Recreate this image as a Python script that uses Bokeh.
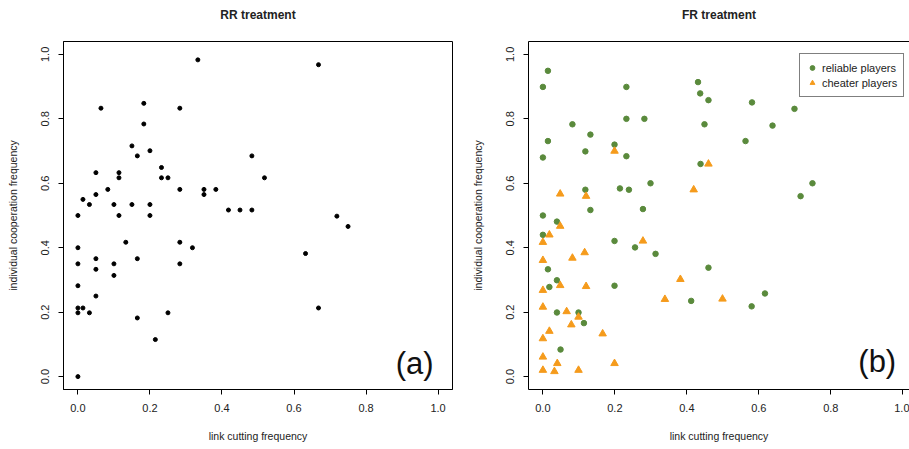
from bokeh.plotting import figure
from bokeh.layouts import row
from bokeh.models import (Range1d, FixedTicker, Label, LinearAxis, Legend,
                          LegendItem, NumeralTickFormatter)
from bokeh.embed import file_html
from bokeh.resources import INLINE

# ---------------- data ----------------
ticks = [0.0, 0.2, 0.4, 0.6, 0.8, 1.0]

rr_x = [0.0, 0.014, 0.032, 0.05, 0.05, 0.064, 0.083, 0.10, 0.114, 0.114, 0.114,
        0.15, 0.15, 0.165, 0.183, 0.183, 0.20, 0.20, 0.20, 0.232, 0.232, 0.25,
        0.283, 0.283, 0.333, 0.35, 0.35, 0.383, 0.418, 0.45, 0.483, 0.483,
        0.668, 0.518, 0.719, 0.75, 0.0, 0.0, 0.0, 0.0, 0.014, 0.0, 0.032,
        0.05, 0.05, 0.05, 0.10, 0.10, 0.133, 0.165, 0.165, 0.215, 0.25, 0.283,
        0.283, 0.318, 0.0, 0.632, 0.668]
rr_y = [0.50, 0.55, 0.534, 0.565, 0.633, 0.833, 0.581, 0.534, 0.633, 0.617, 0.50,
        0.716, 0.534, 0.685, 0.848, 0.784, 0.701, 0.534, 0.50, 0.649, 0.617, 0.617,
        0.833, 0.581, 0.983, 0.581, 0.565, 0.581, 0.517, 0.517, 0.517, 0.685,
        0.968, 0.617, 0.498, 0.466, 0.40, 0.35, 0.282, 0.213, 0.213, 0.198, 0.198,
        0.366, 0.333, 0.25, 0.35, 0.314, 0.417, 0.366, 0.182, 0.115, 0.198, 0.417,
        0.35, 0.40, 0.0, 0.382, 0.213]

reliable_x = [0.014, 0.0, 0.232, 0.232, 0.282, 0.082, 0.014, 0.132, 0.0, 0.118,
              0.199, 0.232, 0.118, 0.132, 0.214, 0.239, 0.299, 0.278, 0.0, 0.039,
              0.431, 0.437, 0.46, 0.581, 0.699, 0.449, 0.638, 0.563, 0.438, 0.749,
              0.716, 0.0, 0.199, 0.256, 0.313, 0.014, 0.039, 0.018, 0.199, 0.412,
              0.039, 0.099, 0.114, 0.049, 0.46, 0.617, 0.58]
reliable_y = [0.949, 0.899, 0.899, 0.80, 0.80, 0.783, 0.731, 0.751, 0.68, 0.699,
              0.72, 0.684, 0.58, 0.517, 0.584, 0.58, 0.60, 0.52, 0.50, 0.481,
              0.914, 0.879, 0.858, 0.851, 0.831, 0.783, 0.779, 0.731, 0.66, 0.60,
              0.56, 0.44, 0.421, 0.401, 0.381, 0.333, 0.299, 0.278, 0.282, 0.235,
              0.199, 0.199, 0.166, 0.084, 0.338, 0.258, 0.218]

cheater_x = [0.199, 0.048, 0.12, 0.048, 0.419, 0.46, 0.018, 0.0, 0.278, 0.116,
             0.0, 0.082, 0.382, 0.0, 0.048, 0.12, 0.339, 0.0, 0.066, 0.099,
             0.079, 0.018, 0.166, 0.0, 0.0, 0.04, 0.199, 0.0, 0.032, 0.099, 0.499]
cheater_y = [0.70, 0.567, 0.56, 0.467, 0.58, 0.66, 0.44, 0.417, 0.421, 0.385,
             0.361, 0.368, 0.302, 0.268, 0.283, 0.28, 0.24, 0.216, 0.202, 0.185,
             0.161, 0.141, 0.133, 0.118, 0.061, 0.041, 0.041, 0.02, 0.016, 0.02, 0.241]

FONT = "Liberation Sans"
GREEN = "#5a8a3c"
ORANGE = "#f59b1c"


def make_fig(title, width, left, right, xend, top_line):
    p = figure(width=width, height=449,
               x_range=Range1d(-0.04, xend), y_range=Range1d(-0.04, 1.04),
               output_backend="svg", toolbar_location=None,
               min_border_left=left, min_border_right=right,
               min_border_top=41, min_border_bottom=60,
               x_axis_label="link cutting frequency",
               y_axis_label="individual cooperation frequency")
    p.grid.visible = False
    p.background_fill_color = "white"
    p.border_fill_color = "white"
    for ax in (p.below[0], p.left[0]):
        ax.ticker = FixedTicker(ticks=ticks)
        ax.formatter = NumeralTickFormatter(format="0.0")
        ax.axis_line_color = "black"
        ax.major_tick_line_color = "black"
        ax.major_tick_out = 5
        ax.major_tick_in = 0
        ax.minor_tick_line_color = None
        ax.major_label_text_font = FONT
        ax.major_label_text_font_size = "11px"
        ax.major_label_text_color = "#222222"
        ax.axis_label_text_font = FONT
        ax.axis_label_text_font_size = "10.5px"
        ax.axis_label_text_font_style = "normal"
        ax.axis_label_text_color = "#222222"
        ax.major_label_standoff = 9
        ax.axis_label_standoff = 15
    p.left[0].major_label_orientation = "vertical"
    p.left[0].axis_label_standoff = 20
    # title drawn as the label of an (otherwise empty) top axis
    top = LinearAxis(ticker=FixedTicker(ticks=[]),
                     major_label_text_font_size="0px",
                     major_label_standoff=0, major_tick_out=0, major_tick_in=0,
                     major_tick_line_color=None, minor_tick_line_color=None,
                     axis_line_color=top_line,
                     axis_label=title, axis_label_standoff=20,
                     axis_label_text_font=FONT,
                     axis_label_text_font_size="12px",
                     axis_label_text_font_style="bold",
                     axis_label_text_color="#222222")
    p.add_layout(top, "above")
    return p


p1 = make_fig("RR treatment", 462, 63, 10, 1.04, None)
p1.outline_line_color = "black"
p1.outline_line_alpha = 1.0
p1.scatter(rr_x, rr_y, marker="circle", size=4, color="black")
p1.add_layout(Label(x=0.935, y=0.042, text="(a)", text_font=FONT,
                    text_font_size="31px", text_align="center",
                    text_baseline="middle", text_color="#111111"))

p2 = make_fig("FR treatment", 447, 66, 0, 1.0186, "black")
p2.outline_line_color = None
r_rel = p2.scatter(reliable_x, reliable_y, marker="circle", size=5.5,
                   color=GREEN)
r_che = p2.scatter(cheater_x, cheater_y, marker="triangle", size=7.5,
                   color=ORANGE)
p2.add_layout(Label(x=0.929, y=0.048, text="(b)", text_font=FONT,
                    text_font_size="31px", text_align="center",
                    text_baseline="middle", text_color="#111111"))
legend = Legend(items=[LegendItem(label="reliable players", renderers=[r_rel]),
                       LegendItem(label="cheater players", renderers=[r_che])],
                location=(271, 292), margin=0, padding=6, spacing=0,
                glyph_width=12, glyph_height=15, label_height=15,
                label_standoff=4, label_text_font=FONT,
                label_text_font_size="11px", label_text_color="#222222",
                border_line_color="black", border_line_width=1,
                background_fill_alpha=1.0)
p2.add_layout(legend)

layout = row(p1, p2)
open("out.html", "w").write(file_html(layout, INLINE))
